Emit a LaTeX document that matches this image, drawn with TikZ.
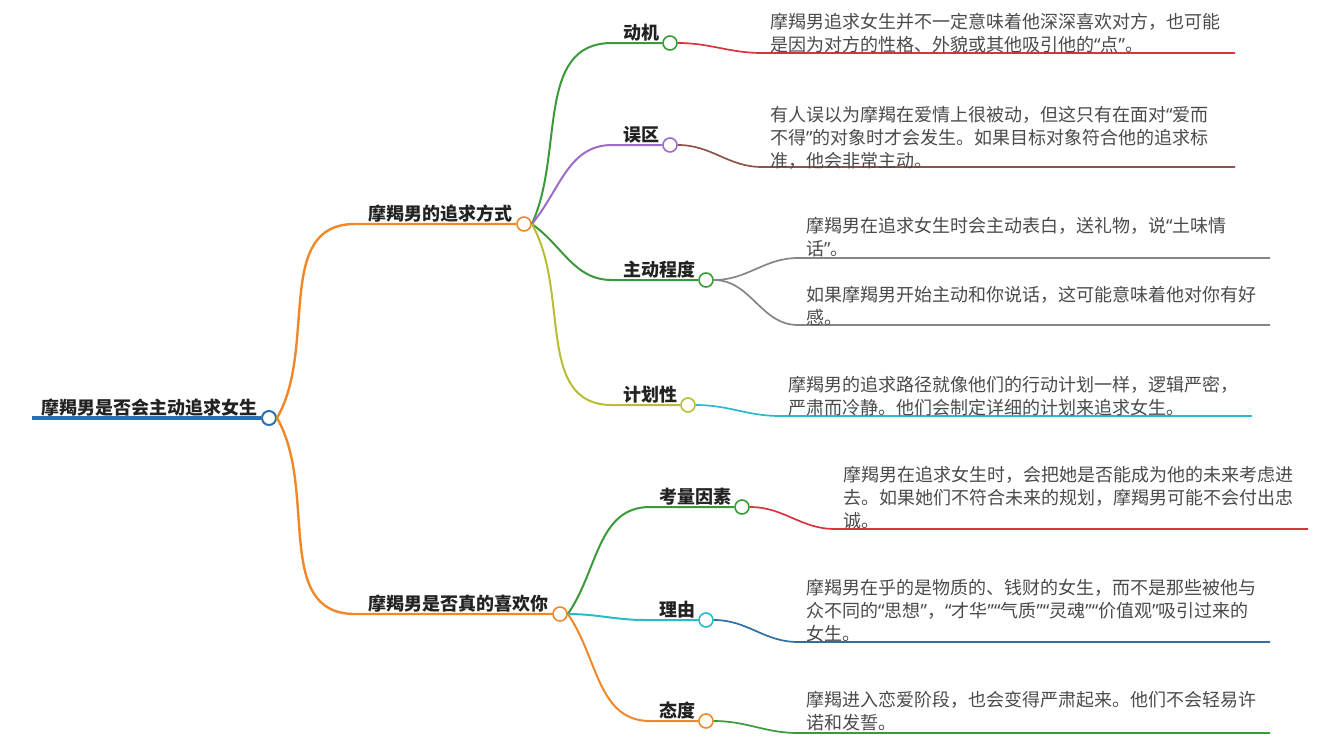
\documentclass[tikz,border=0pt]{standalone}
\usepackage{fontspec}
\newfontfamily\cjk{Noto Sans CJK SC}
\newfontfamily\latq{Noto Sans}
\newcommand{\qLft}{{\latq “}}
\newcommand{\qRgt}{{\latq ”}}
\definecolor{cBlue}{HTML}{2E6FAE}
\definecolor{cOrange}{HTML}{F0882A}
\definecolor{cGreen}{HTML}{3A9A3A}
\definecolor{cPurple}{HTML}{9C6CC8}
\definecolor{cRed}{HTML}{D8343F}
\definecolor{cBrown}{HTML}{8C5548}
\definecolor{cGray}{HTML}{858585}
\definecolor{cOlive}{HTML}{B7BE33}
\definecolor{cCyan}{HTML}{2BBACB}
\definecolor{cDeep}{HTML}{2D6FA6}
\definecolor{cText}{HTML}{4A4A4A}
\definecolor{cLabel}{HTML}{222222}
\begin{document}
\begin{tikzpicture}[x=1pt,y=-1pt,
  dot/.style={circle, draw=#1, fill=white, line width=1.6pt, minimum size=14pt, inner sep=0pt},
  lbl/.style={font=\cjk\bfseries\fontsize{18}{22}\selectfont, text=cLabel, inner sep=0pt, anchor=base east},
  desc/.style={font=\cjk\fontsize{18}{23}\selectfont, text=cText, inner sep=0pt, anchor=north west, align=left},
  l0/.style={line width=4pt},
  l1/.style={line width=2.4pt},
  l2/.style={line width=2pt},
  l3/.style={line width=1.7pt}]
\useasboundingbox (0,0) rectangle (1325,745);

% root
\coordinate (r0) at (32,418);
\node[dot=cBlue, line width=2pt] (c0) at (269,418) {};
\draw[cBlue,l0] (r0) -- (c0.west);
\node[lbl] (t0) at (258,414.8) {摩羯男是否会主动追求女生};

% level 1
\node[dot=cOrange] (c1) at (524,224) {};
\coordinate (u1) at (355,224);
\draw[cOrange,l1] (c0.east) to[out=60,in=180] (u1) -- (c1.west);
\node[lbl] (t1) at (513,220.8) {摩羯男的追求方式};

\node[dot=cOrange] (c2) at (560,614) {};
\coordinate (u2) at (355,614);
\draw[cOrange,l1] (c0.east) to[out=-60,in=180] (u2) -- (c2.west);
\node[lbl] (t2) at (549,610.8) {摩羯男是否真的喜欢你};

% level 2 under c1
\node[dot=cGreen] (c11) at (670,43) {};
\coordinate (u11) at (612,43);
\draw[cGreen,l2] (c1.east) to[out=65,in=180] (u11) -- (c11.west);
\node[lbl] (t11) at (660,39.8) {动机};

\node[dot=cPurple] (c12) at (670,145) {};
\coordinate (u12) at (612,145);
\draw[cPurple,l2] (c1.east) to[out=50,in=180] (u12) -- (c12.west);
\node[lbl] (t12) at (660,141.8) {误区};

\node[dot=cGreen] (c13) at (706,280) {};
\coordinate (u13) at (612,280);
\draw[cGreen,l2] (c1.east) to[out=-35,in=180] (u13) -- (c13.west);
\node[lbl] (t13) at (696,276.8) {主动程度};

\node[dot=cOlive] (c14) at (688,405) {};
\coordinate (u14) at (612,405);
\draw[cOlive,l2] (c1.east) to[out=-60,in=180] (u14) -- (c14.west);
\node[lbl] (t14) at (678,401.8) {计划性};

% level 2 under c2
\node[dot=cGreen] (c21) at (742,507) {};
\coordinate (u21) at (650,507);
\draw[cGreen,l2] (c2.east) to[out=55,in=180] (u21) -- (c21.west);
\node[lbl] (t21) at (732,503.8) {考量因素};

\node[dot=cCyan] (c22) at (706,620) {};
\coordinate (u22) at (645,620);
\draw[cCyan,l2] (c2.east) to[out=0,in=180] (u22) -- (c22.west);
\node[lbl] (t22) at (696,616.8) {理由};

\node[dot=cOrange] (c23) at (706,721) {};
\coordinate (u23) at (650,721);
\draw[cOrange,l2] (c2.east) to[out=-55,in=180] (u23) -- (c23.west);
\node[lbl] (t23) at (696,717.8) {态度};

% level 3
\coordinate (a11) at (762,53);  \coordinate (e11) at (1235,53);
\draw[cRed,l3] (c11.east) to[out=0,in=180] (a11) -- (e11);
\node[desc] (d11) at (770,12.4) {\strut 摩羯男追求女生并不一定意味着他深深喜欢对方，也可能\\是因为对方的性格、外貌或其他吸引他的\qLft 点\qRgt 。};

\coordinate (a12) at (762,167); \coordinate (e12) at (1235,167);
\draw[cBrown,l3] (c12.east) to[out=0,in=180] (a12) -- (e12);
\node[desc] (d12) at (770,104.7) {\strut 有人误以为摩羯在爱情上很被动，但这只有在面对\qLft 爱而\\不得\qRgt 的对象时才会发生。如果目标对象符合他的追求标\\准，他会非常主动。};

\coordinate (a131) at (798,258); \coordinate (e131) at (1270,258);
\draw[cGray,l3] (c13.east) to[out=0,in=180] (a131) -- (e131);
\node[desc] (d131) at (806,215.7) {\strut 摩羯男在追求女生时会主动表白，送礼物，说\qLft 土味情\\话\qRgt 。};

\coordinate (a132) at (798,325); \coordinate (e132) at (1270,325);
\draw[cGray,l3] (c13.east) to[out=0,in=180] (a132) -- (e132);
\node[desc] (d132) at (806,284.7) {\strut 如果摩羯男开始主动和你说话，这可能意味着他对你有好\\感。};

\coordinate (a14) at (780,416); \coordinate (e14) at (1252,416);
\draw[cCyan,l3] (c14.east) to[out=0,in=180] (a14) -- (e14);
\node[desc] (d14) at (788,374.7) {\strut 摩羯男的追求路径就像他们的行动计划一样，逻辑严密，\\严肃而冷静。他们会制定详细的计划来追求女生。};

\coordinate (a21) at (835,529); \coordinate (e21) at (1308,529);
\draw[cRed,l3] (c21.east) to[out=0,in=180] (a21) -- (e21);
\node[desc] (d21) at (843,464.7) {\strut 摩羯男在追求女生时，会把她是否能成为他的未来考虑进\\去。如果她们不符合未来的规划，摩羯男可能不会付出忠\\诚。};

\coordinate (a22) at (798,642); \coordinate (e22) at (1270,642);
\draw[cDeep,l3] (c22.east) to[out=0,in=180] (a22) -- (e22);
\node[desc] (d22) at (806,577.7) {\strut 摩羯男在乎的是物质的、钱财的女生，而不是那些被他与\\众不同的\qLft 思想\qRgt ，\qLft 才华\qRgt\qLft 气质\qRgt\qLft 灵魂\qRgt\qLft 价值观\qRgt 吸引过来的\\女生。};

\coordinate (a23) at (798,733); \coordinate (e23) at (1270,733);
\draw[cGreen,l3] (c23.east) to[out=0,in=180] (a23) -- (e23);
\node[desc] (d23) at (806,689.7) {\strut 摩羯进入恋爱阶段，也会变得严肃起来。他们不会轻易许\\诺和发誓。};
\end{tikzpicture}
\end{document}
